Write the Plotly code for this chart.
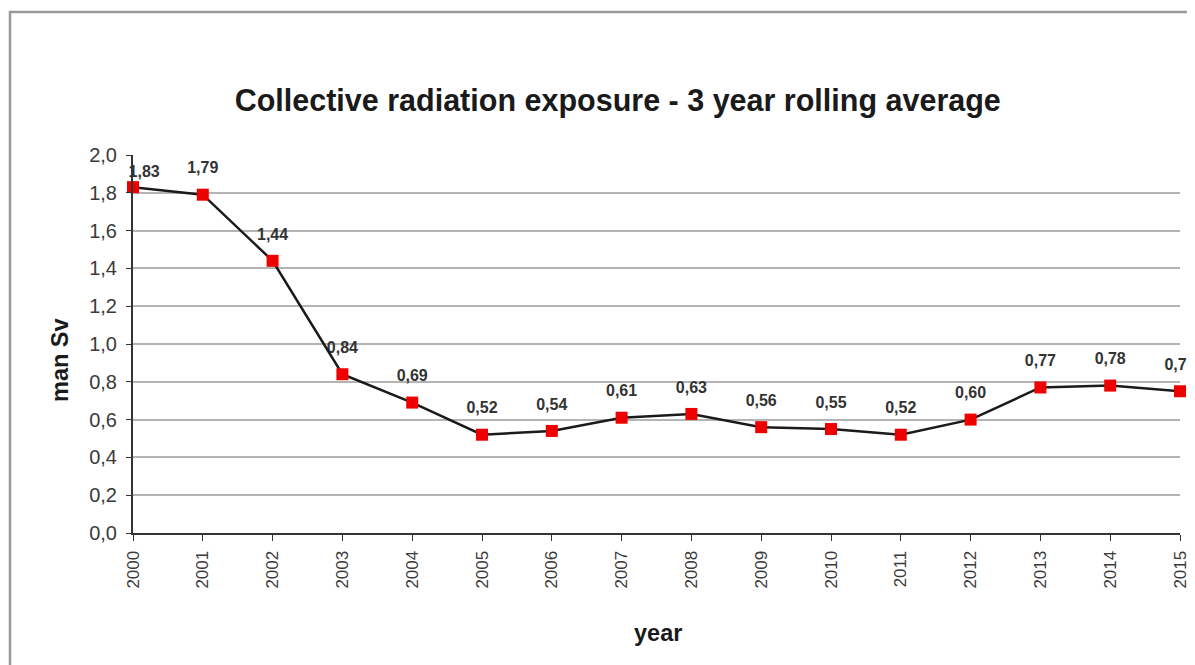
import plotly.graph_objects as go

years = [2000, 2001, 2002, 2003, 2004, 2005, 2006, 2007, 2008, 2009, 2010, 2011, 2012, 2013, 2014, 2015]
values = [1.83, 1.79, 1.44, 0.84, 0.69, 0.52, 0.54, 0.61, 0.63, 0.56, 0.55, 0.52, 0.60, 0.77, 0.78, 0.75]
y_ticks = [0.0, 0.2, 0.4, 0.6, 0.8, 1.0, 1.2, 1.4, 1.6, 1.8, 2.0]

FONT = "Liberation Sans, Arial, sans-serif"

# plot area in figure pixels (page has 8px body margin)
L, R, T, B = 125, 1172, 147, 525
W, H = 1195, 665

# label placement: first label sits lower and to the right (it touches the top of the plot)
label_tpl = ["\u00a0" * 5 + "<b>%{y:.2f}</b>"] + ["<b>%{y:.2f}</b>"] * (len(years) - 1)
label_gap = [8] + [26] * (len(years) - 1)

fig = go.Figure()
fig.add_trace(go.Scatter(
    x=years, y=values, mode="markers+text",
    marker=dict(size=label_gap, color="rgba(255,255,255,0)", line=dict(width=0)),
    texttemplate=label_tpl, textposition="top center",
    textfont=dict(family=FONT, size=16, color="#333333"),
    cliponaxis=False, showlegend=False, hoverinfo="skip",
))
fig.add_trace(go.Scatter(
    x=years, y=values, mode="lines+markers",
    line=dict(color="#1a1a1a", width=2.5),
    marker=dict(symbol="square", size=12, color="#ee0000", line=dict(width=0)),
    cliponaxis=False, showlegend=False, hoverinfo="x+y",
))

fig.update_layout(
    width=W, height=H,
    margin=dict(l=L, r=W - R, t=T, b=H - B),
    paper_bgcolor="white", plot_bgcolor="white",
    separators=",.",
    font=dict(family=FONT, color="#333333"),
    title=dict(text="<b>Collective radiation exposure - 3 year rolling average</b>",
               x=0.463, xref="paper", xanchor="center",
               y=1 - 92 / H, yref="container", yanchor="middle",
               font=dict(family=FONT, size=30.5, color="#1a1a1a")),
    xaxis=dict(range=[2000, 2015], tickmode="array", tickvals=years,
               ticktext=[str(y) for y in years], tickangle=-90,
               tickfont=dict(family=FONT, size=17, color="#3a3a3a"),
               ticklabelstandoff=3,
               showgrid=False, showline=True, linecolor="#333333", linewidth=2,
               ticks="outside", ticklen=6, tickcolor="#333333", zeroline=False),
    yaxis=dict(range=[0, 2.0], tickmode="array", tickvals=y_ticks,
               tickformat=".1f",
               tickfont=dict(family=FONT, size=20, color="#3a3a3a"),
               ticklabelstandoff=5,
               showgrid=True, gridcolor="#b4b4b4", gridwidth=1.5,
               showline=True, linecolor="#333333", linewidth=2,
               ticks="outside", ticklen=5, tickcolor="#333333", zeroline=False),
    annotations=[
        dict(text="<b>man Sv</b>", x=(37 - L) / (R - L), y=(B - 352) / (B - T),
             xref="paper", yref="paper", textangle=-90, showarrow=False,
             font=dict(family=FONT, size=23.5, color="#1a1a1a")),
        dict(text="<b>year</b>", x=(650 - L) / (R - L), y=(B - 640) / (B - T),
             xref="paper", yref="paper", showarrow=False,
             font=dict(family=FONT, size=23.5, color="#1a1a1a")),
    ],
    shapes=[
        dict(type="rect", xref="paper", yref="paper",
             x0=(2 - L) / (R - L), x1=1.3, y0=-1.0, y1=(B - 4) / (B - T),
             line=dict(color="#999999", width=2.5), fillcolor="rgba(0,0,0,0)", layer="below"),
    ],
)

fig.write_html("out.html")
